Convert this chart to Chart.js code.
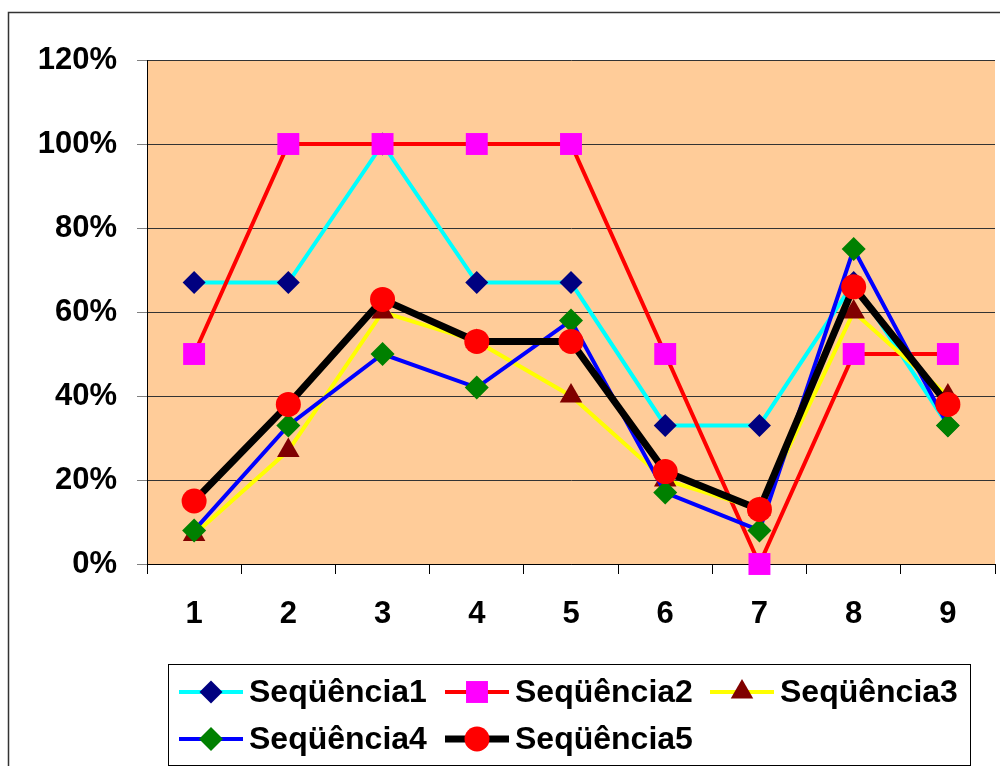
<!DOCTYPE html>
<html>
<head>
<meta charset="utf-8">
<title>Seqüências</title>
<script src="https://cdn.jsdelivr.net/npm/chart.js@4/dist/chart.umd.min.js"></script>
<style>
  html, body { margin: 0; padding: 0; background: #fff; }
  canvas { display: block; }
</style>
</head>
<body>
<canvas id="chart" width="1000" height="766"></canvas>
<script>
// values (fractions, shown as %)
const categories = ['1', '2', '3', '4', '5', '6', '7', '8', '9'];
const yTickLabels = ['0%', '20%', '40%', '60%', '80%', '100%', '120%'];
const seriesNames = ['Seqüência1', 'Seqüência2', 'Seqüência3', 'Seqüência4', 'Seqüência5'];

const seq1 = [0.67, 0.67, 1.00, 0.67, 0.67, 0.33, 0.33, 0.67, 0.33];
const seq2 = [0.50, 1.00, 1.00, 1.00, 1.00, 0.50, 0.00, 0.50, 0.50];
const seq3 = [0.07, 0.27, 0.60, 0.53, 0.40, 0.20, 0.13, 0.60, 0.40];
const seq4 = [0.08, 0.33, 0.50, 0.42, 0.58, 0.17, 0.08, 0.75, 0.33];
const seq5 = [0.15, 0.38, 0.63, 0.53, 0.53, 0.22, 0.13, 0.66, 0.38];

const FONT = "'Liberation Sans', Arial, sans-serif";
const tickFont = { family: FONT, size: 31, weight: 'bold' };

// one line series, Excel style (line colour + marker colour)
const makeSeries = (i, data, line, marker, style, radius, width, order) => ({
  label: seriesNames[i],
  data,
  borderColor: line,
  borderWidth: width,
  backgroundColor: marker,
  pointStyle: style,
  pointRadius: radius,
  pointHoverRadius: radius,
  pointBackgroundColor: marker,
  pointBorderColor: marker,
  pointBorderWidth: 0,
  tension: 0,
  clip: false,
  order
});

const datasets = [
  makeSeries(0, seq1, '#00FFFF', '#000080', 'rectRot', 11.5, 4, 5),
  makeSeries(1, seq2, '#FF0000', '#FF00FF', 'rect', 15.5, 4, 4),
  makeSeries(2, seq3, '#FFFF00', '#800000', 'triangle', 13, 4, 3),
  makeSeries(3, seq4, '#0000FF', '#008000', 'rectRot', 12, 4, 2),
  makeSeries(4, seq5, '#000000', '#FF0000', 'circle', 12.5, 7, 1)
];

// white page, outer frame and peach plot area
const backgroundPlugin = {
  id: 'background',
  beforeDraw(chart) {
    const { ctx, chartArea: a } = chart;
    ctx.save();
    ctx.fillStyle = '#FFFFFF';
    ctx.fillRect(0, 0, chart.width, chart.height);
    ctx.strokeStyle = '#333333';
    ctx.lineWidth = 1.5;
    ctx.strokeRect(8.5, 12.5, 1000, 800);
    ctx.fillStyle = '#FFCC99';
    ctx.fillRect(a.left, a.top, a.right - a.left, a.bottom - a.top);
    ctx.restore();
  }
};

// legend box with line + marker, two rows like the original
const legendPlugin = {
  id: 'excelLegend',
  afterDraw(chart) {
    const { ctx } = chart;
    const colX = [179, 445, 710];
    const rowY = [692, 739];
    ctx.save();
    ctx.strokeStyle = '#000';
    ctx.lineWidth = 1;
    ctx.strokeRect(168.5, 664.5, 802, 101);
    chart.data.datasets.forEach((ds, i) => {
      const x = colX[i % 3];
      const y = rowY[Math.floor(i / 3)];
      ctx.strokeStyle = ds.borderColor;
      ctx.lineWidth = ds.borderWidth;
      ctx.beginPath();
      ctx.moveTo(x, y);
      ctx.lineTo(x + 64, y);
      ctx.stroke();
      ctx.fillStyle = ds.pointBackgroundColor;
      ctx.strokeStyle = ds.pointBorderColor;
      ctx.lineWidth = 0;
      Chart.helpers.drawPoint(ctx, { pointStyle: ds.pointStyle, radius: ds.pointRadius, borderWidth: 0 }, x + 32, y);
      ctx.fillStyle = '#000';
      ctx.font = `bold 32px ${FONT}`;
      ctx.textBaseline = 'middle';
      ctx.textAlign = 'left';
      ctx.fillText(ds.label, x + 70, y + 1);
    });
    ctx.restore();
  }
};

new Chart(document.getElementById('chart'), {
  type: 'line',
  data: { labels: categories, datasets },
  options: {
    responsive: false,
    animation: false,
    layout: { autoPadding: false, padding: { left: 0, top: 60, right: 5, bottom: 122 } },
    plugins: {
      legend: { display: false },
      tooltip: { enabled: false }
    },
    scales: {
      x: {
        offset: true,
        grid: { offset: true, drawOnChartArea: false, tickLength: 10, tickColor: '#000' },
        border: { color: '#000', width: 1 },
        ticks: { font: tickFont, color: '#000', padding: 22, maxRotation: 0 },
        afterFit: (s) => { s.height = 80; }
      },
      y: {
        min: 0,
        max: 1.2,
        ticks: {
          stepSize: 0.2,
          font: tickFont,
          color: '#000',
          padding: 20,
          callback: (v, i) => yTickLabels[i]
        },
        grid: { color: '#333333', tickColor: '#808080', tickLength: 10 },
        border: { color: '#000', width: 1 },
        afterFit: (s) => { s.width = 147; }
      }
    }
  },
  plugins: [backgroundPlugin, legendPlugin]
});
</script>
</body>
</html>
